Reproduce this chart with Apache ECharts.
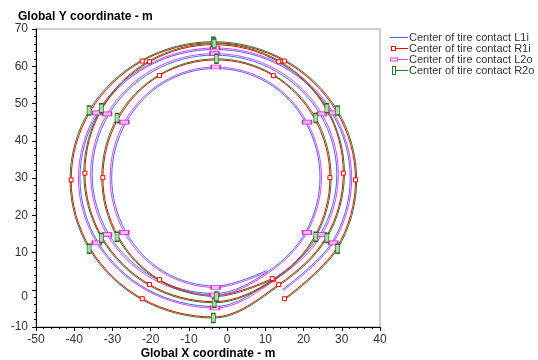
<!DOCTYPE html>
<html>
<head>
<meta charset="utf-8">
<script src="https://cdn.jsdelivr.net/npm/echarts@6/dist/echarts.min.js"></script>
<style>
  html, body { margin: 0; padding: 0; background: #fff; }
  #main { width: 538px; height: 360px; }
</style>
</head>
<body>
<div id="main"></div>
<script>
// axis ranges (m)
var xRange = [-50, 40];
var yRange = [-10, 70];

var seriesNames = ['Center of tire contact L1i', 'Center of tire contact R1i',
                   'Center of tire contact L2o', 'Center of tire contact R2o'];

// tire contact paths, three laps each [x, y]
var L1i = [
  [14.5, 0.1], [27.5, 12.8], [32.2, 30.0], [27.5, 47.3], [14.5, 59.9], [-3.2, 64.5],
  [-20.9, 59.9], [-33.8, 47.3], [-38.5, 30.0], [-33.8, 12.8], [-20.9, 0.1], [-3.2, -4.5],
  [12.7, 3.3], [24.4, 15.0], [28.7, 31.0], [24.4, 47.0], [12.7, 58.7], [-3.3, 63.0],
  [-19.3, 58.7], [-31.0, 47.0], [-35.3, 31.0], [-31.0, 15.0], [-19.3, 3.3], [-3.3, -1.0],
  [10.7, 4.9], [20.6, 15.6], [24.3, 30.2], [20.6, 44.8], [10.7, 55.5], [-3.0, 59.4],
  [-16.6, 55.5], [-26.5, 44.8], [-30.2, 30.2], [-26.5, 15.6], [-16.6, 4.9], [-3.0, 1.0],
  [10.4, 5.2]
];
var R1i = [
  [15.0, -2.4], [28.6, 11.1], [33.6, 29.5], [28.6, 47.9], [15.0, 61.4], [-3.6, 66.3],
  [-22.2, 61.4], [-35.8, 47.9], [-40.8, 29.5], [-35.8, 11.1], [-22.2, -2.4], [-3.6, -7.3],
  [13.5, 1.4], [25.9, 14.1], [30.4, 31.3], [25.9, 48.6], [13.5, 61.2], [-3.4, 65.8],
  [-20.3, 61.2], [-32.7, 48.6], [-37.2, 31.3], [-32.7, 14.1], [-20.3, 1.4], [-3.4, -3.2],
  [12.1, 2.7], [22.9, 14.3], [26.9, 30.1], [22.9, 45.9], [12.1, 57.5], [-2.8, 61.7],
  [-17.7, 57.5], [-28.5, 45.9], [-32.5, 30.1], [-28.5, 14.3], [-17.7, 2.7], [-2.8, -1.5],
  [11.8, 3.0]
];
var L2o = [
  [14.7, -0.2], [27.8, 12.6], [32.6, 30.0], [27.8, 47.5], [14.7, 60.2], [-3.2, 64.9],
  [-21.0, 60.2], [-34.1, 47.5], [-38.9, 30.0], [-34.1, 12.6], [-21.0, -0.2], [-3.2, -4.9],
  [12.9, 2.9], [24.8, 14.8], [29.1, 31.0], [24.8, 47.2], [12.9, 59.1], [-3.3, 63.4],
  [-19.5, 59.1], [-31.4, 47.2], [-35.7, 31.0], [-31.4, 14.8], [-19.5, 2.9], [-3.3, -1.4],
  [10.9, 4.6], [20.9, 15.4], [24.7, 30.2], [20.9, 45.0], [10.9, 55.8], [-3.0, 59.8],
  [-16.8, 55.8], [-26.9, 45.0], [-30.6, 30.2], [-26.9, 15.4], [-16.8, 4.6], [-3.0, 0.6],
  [10.6, 4.9]
];
var R2o = [
  [15.2, -2.6], [28.9, 11.0], [33.9, 29.5], [28.9, 48.1], [15.2, 61.6], [-3.6, 66.6],
  [-22.4, 61.6], [-36.1, 48.1], [-41.1, 29.5], [-36.1, 11.0], [-22.4, -2.6], [-3.6, -7.6],
  [13.7, 1.2], [26.1, 13.9], [30.7, 31.3], [26.1, 48.7], [13.7, 61.4], [-3.4, 66.1],
  [-20.5, 61.4], [-32.9, 48.7], [-37.5, 31.3], [-32.9, 13.9], [-20.5, 1.2], [-3.4, -3.5],
  [12.2, 2.5], [23.2, 14.2], [27.2, 30.1], [23.2, 46.1], [12.2, 57.7], [-2.8, 62.0],
  [-17.8, 57.7], [-28.8, 46.1], [-32.8, 30.1], [-28.8, 14.2], [-17.8, 2.5], [-2.8, -1.8],
  [12.0, 2.8]
];

var font = 'Liberation Sans, Arial, sans-serif';
var SMOOTH = 0.35;

// markers only on every other point
function every(size, phase) {
  return function (val, p) { return p.dataIndex % 2 === phase ? size : 0; };
}

// legend icons: short line with the marker at its left end (box 18 x 10)
var box = 'M0,0L0,0M18,10L18,10';
var icons = [
  'path://' + box + 'M0,4.5H18V5.5H0Z',
  'path://' + box + 'M6,4.5H18V5.5H6Z M1,2.5H6V7.5H1Z M2,3.5V6.5H5V3.5Z',
  'path://' + box + 'M8,4.5H18V5.5H8Z M0,3H8V7H0Z M1,4V6H7V4Z',
  'path://' + box + 'M6,4.5H18V5.5H6Z M2,0.5H6V9.5H2Z M3,1.5V8.5H5V1.5Z'
];
var iconColors = ['#4466ff', '#ff0000', '#e040e0', '#2a7a2a'];

var chart = echarts.init(document.getElementById('main'));
chart.setOption({
  animation: false,
  title: {
    text: 'Global Y coordinate - m',
    left: 13, top: 6,
    textStyle: { fontFamily: font, fontSize: 12, fontWeight: 'bold', color: '#000' }
  },
  legend: {
    orient: 'vertical',
    left: 385, top: 27,
    itemWidth: 18, itemHeight: 10, itemGap: 0,
    textStyle: { fontFamily: font, fontSize: 11, color: '#333', padding: [0, 0, 0, -4] },
    data: seriesNames.map(function (n, i) {
      return { name: n, icon: icons[i], itemStyle: { color: iconColors[i], borderWidth: 0 } };
    })
  },
  grid: {
    left: 36, right: 158, top: 29, bottom: 33,
    outerBoundsMode: 'none',
    show: true, borderColor: '#9a9a9a', borderWidth: 1
  },
  xAxis: {
    type: 'value', min: xRange[0], max: xRange[1], interval: 10,
    name: 'Global X coordinate - m', nameLocation: 'middle', nameGap: 21,
    nameMoveOverlap: false,
    nameTextStyle: { fontFamily: font, fontSize: 12, fontWeight: 'bold', color: '#000' },
    axisLine: { onZero: false, lineStyle: { color: '#000' } },
    axisTick: { length: 4, lineStyle: { color: '#000' } },
    minorTick: { show: true, splitNumber: 5, length: 2, lineStyle: { color: '#000' } },
    axisLabel: { fontFamily: font, fontSize: 12, color: '#333', margin: 7 },
    splitLine: { show: false }
  },
  yAxis: {
    type: 'value', min: yRange[0], max: yRange[1], interval: 10,
    axisLine: { onZero: false, lineStyle: { color: '#000' } },
    axisTick: { length: 4, lineStyle: { color: '#000' } },
    minorTick: { show: true, splitNumber: 5, length: 2, lineStyle: { color: '#000' } },
    axisLabel: {
      fontFamily: font, fontSize: 12, color: '#333', margin: 8,
      formatter: function (v) { return v === 0 ? '{z|0}' : String(v); },
      rich: { z: { fontFamily: font, fontSize: 12, color: '#333', padding: [14, 0, 0, 0] } }
    },
    splitLine: { show: false }
  },
  series: [
    {
      name: seriesNames[0], type: 'line', data: L1i, smooth: SMOOTH,
      symbol: 'none', color: '#4466ff',
      lineStyle: { width: 1, color: '#4466ff' }
    },
    {
      name: seriesNames[1], type: 'line', data: R1i, smooth: SMOOTH,
      symbol: 'rect', symbolSize: every([4, 4], 0), showAllSymbol: true,
      color: '#ff0000',
      itemStyle: { color: '#ffffff', borderColor: '#ff0000', borderWidth: 1 },
      lineStyle: { width: 1, color: '#ff0000' }
    },
    {
      name: seriesNames[2], type: 'line', data: L2o, smooth: SMOOTH,
      symbol: 'rect', symbolSize: every([9, 4], 1), showAllSymbol: true,
      color: '#e040e0',
      itemStyle: { color: '#f4b8f4', borderColor: '#d020d0', borderWidth: 1 },
      lineStyle: { width: 1, color: '#e040e0' }
    },
    {
      name: seriesNames[3], type: 'line', data: R2o, smooth: SMOOTH,
      symbol: 'rect', symbolSize: every([4, 9], 1), showAllSymbol: true,
      color: '#2a7a2a',
      itemStyle: { color: '#b0d8b0', borderColor: '#1e6e1e', borderWidth: 1 },
      lineStyle: { width: 1, color: '#2a7a2a' }
    }
  ]
});
</script>
</body>
</html>
